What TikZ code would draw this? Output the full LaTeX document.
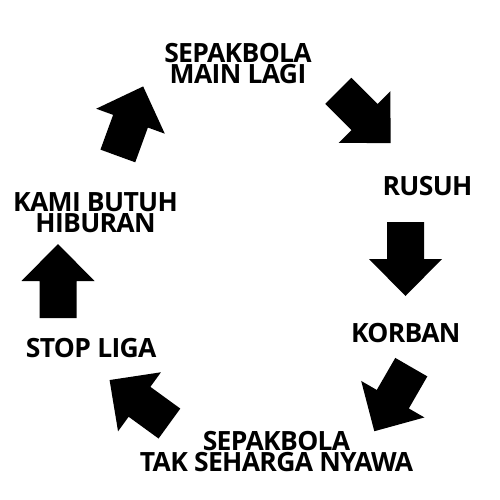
\documentclass[tikz,border=0pt]{standalone}
\usepackage{fontspec}
\setmainfont{Open Sans}
\newfontfamily\lblfont{Open Sans}[LetterSpace=-2.5]
\tikzset{
  lbl/.style={font=\lblfont\fontsize{26.5}{21}\selectfont\bfseries, align=center, inner sep=0pt, text=black},
  blockarrow/.pic={\fill[black] (-37,-18.5) -- (0,-18.5) -- (0,-36.5) -- (37,0) -- (0,36.5) -- (0,18.5) -- (-37,18.5) -- cycle;}
}
\begin{document}
\begin{tikzpicture}[x=1pt,y=-1pt]
\fill[white] (0,0) rectangle (500,500);
\useasboundingbox (0,0) rectangle (500,500);
\node[lbl] (a) at (238,63.7) {SEPAKBOLA\\MAIN LAGI};
\node[lbl] (b) at (427.5,186.3) {RUSUH};
\node[lbl] (c) at (405.8,333.2) {KORBAN};
\node[lbl] (d) at (276.5,451.2) {SEPAKBOLA\\TAK SEHARGA NYAWA};
\node[lbl] (e) at (91.2,348.3) {STOP LIGA};
\node[lbl] (f) at (95.5,212.5) {KAMI BUTUH\\HIBURAN};
\pic[rotate=-45] at (364.5,117) {blockarrow};
\pic[rotate=-90] at (405.5,259) {blockarrow};
\pic[rotate=240] at (392.8,399.2) {blockarrow};
\pic[rotate=144] at (139.5,401.8) {blockarrow};
\pic[rotate=90] at (58,281) {blockarrow};
\pic[rotate=70] at (130.5,121.2) {blockarrow};
\end{tikzpicture}
\end{document}
